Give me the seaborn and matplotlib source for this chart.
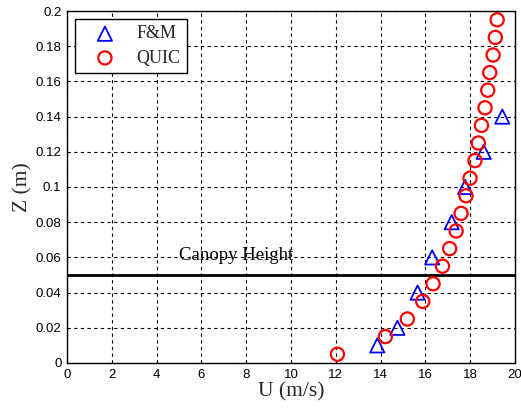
import matplotlib
matplotlib.use("Agg")
import matplotlib.pyplot as plt
import seaborn as sns
import numpy as np

fm_u = [13.85, 14.75, 15.65, 16.3, 17.17, 17.77, 18.6, 19.43]
fm_z = [0.01, 0.02, 0.04, 0.06, 0.08, 0.10, 0.12, 0.14]

quic_u = [12.07, 14.21, 15.19, 15.88, 16.34, 16.76, 17.08, 17.37, 17.59, 17.81,
          17.99, 18.21, 18.36, 18.5, 18.66, 18.78, 18.87, 19.02, 19.12, 19.2]
quic_z = [0.005, 0.015, 0.025, 0.035, 0.045, 0.055, 0.065, 0.075, 0.085, 0.095,
          0.105, 0.115, 0.125, 0.135, 0.145, 0.155, 0.165, 0.175, 0.185, 0.195]

canopy_height = 0.05
xticks = list(range(0, 21, 2))
yticks = [0, 0.02, 0.04, 0.06, 0.08, 0.1, 0.12, 0.14, 0.16, 0.18, 0.2]
ytick_labels = ["0", "0.02", "0.04", "0.06", "0.08", "0.1", "0.12", "0.14", "0.16", "0.18", "0.2"]

sns.set_style("white")
plt.rcParams['font.family'] = ['Liberation Sans', 'DejaVu Sans']

fig = plt.figure(figsize=(5.21, 4.09), dpi=100)
ax = fig.add_axes([0.1286, 0.1125, 0.86, 0.8606])

serif = ['Liberation Serif', 'DejaVu Serif']

sns.scatterplot(x=fm_u, y=fm_z, marker='^', s=105, facecolors='none',
                edgecolor='blue', linewidth=1.3, ax=ax, label='F&M', zorder=3)
sns.scatterplot(x=quic_u, y=quic_z, marker='o', s=90, facecolors='none',
                edgecolor='red', linewidth=1.6, ax=ax, label='QUIC', zorder=3)

ax.axhline(canopy_height, color='black', linewidth=2, zorder=2)
ax.text(5.0, 0.0588, 'Canopy Height', family=serif, fontsize=13.5,
        va='baseline', ha='left', color='black', zorder=4)

ax.set_xlim(0, 20)
ax.set_ylim(0, 0.2)
ax.set_xticks(xticks)
ax.set_yticks(yticks)
ax.set_yticklabels(ytick_labels)
ax.tick_params(direction='in', labelsize=9.5, length=3, colors='black', pad=4)
ax.grid(True, linestyle=(0, (3, 3)), color='black', linewidth=0.8)
for s in ax.spines.values():
    s.set_color('black')
    s.set_linewidth(1)

ax.set_xlabel('U (m/s)', family=serif, fontsize=15.5, labelpad=1)
ax.set_ylabel('Z (m)', family=serif, fontsize=15.5, labelpad=2)

leg = ax.legend(loc='upper left', prop={'family': serif, 'size': 13},
                fancybox=False, edgecolor='black', framealpha=1,
                borderpad=0.35, handletextpad=0.45, labelspacing=0.4,
                handlelength=2.6,
                bbox_to_anchor=(0.0, 1.0), borderaxespad=0.45)
leg.get_frame().set_linewidth(1)

fig.savefig('out.png', dpi=100)
